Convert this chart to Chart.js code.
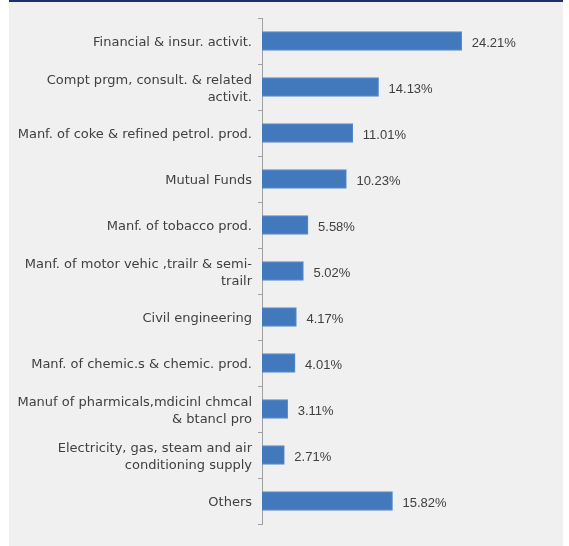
<!DOCTYPE html>
<html>
<head>
<meta charset="utf-8">
<title>Sector share</title>
<script src="https://cdn.jsdelivr.net/npm/chart.js@4/dist/chart.umd.min.js"></script>
<style>
  html, body { margin: 0; padding: 0; background: #ffffff; }
  #panel {
    position: absolute; left: 9px; top: 0; width: 554px; height: 546px;
    background: #f0f0f0;
  }
  #topbar { position: absolute; left: 0; top: 0; width: 554px; height: 2px; background: #1f2f6e; }
  #chart { position: absolute; left: 0; top: 0; }
</style>
</head>
<body>
<div id="panel">
  <canvas id="chart" width="554" height="546"></canvas>
  <div id="topbar"></div>
</div>
<script>
// sectors (top to bottom) and their share in percent
const sectors = [
  'Financial & insur. activit.',
  ['Compt prgm, consult. & related', 'activit.'],
  'Manf. of coke & refined petrol. prod.',
  'Mutual Funds',
  'Manf. of tobacco prod.',
  ['Manf. of motor vehic ,trailr & semi-', 'trailr'],
  'Civil engineering',
  'Manf. of chemic.s & chemic. prod.',
  ['Manuf of pharmicals,mdicinl chmcal', '& btancl pro'],
  ['Electricity, gas, steam and air', 'conditioning supply'],
  'Others'
];
const shares = [24.21, 14.13, 11.01, 10.23, 5.58, 5.02, 4.17, 4.01, 3.11, 2.71, 15.82];

const valueFont = '13px "Liberation Sans", Arial, sans-serif';
const textColor = '#404040';
const axisColor = '#a0a0a0';

// writes "xx.xx%" just past the end of every bar
const valueLabels = {
  id: 'valueLabels',
  afterDatasetsDraw(chart) {
    const ctx = chart.ctx;
    const meta = chart.getDatasetMeta(0);
    ctx.save();
    ctx.font = valueFont;
    ctx.fillStyle = textColor;
    ctx.textAlign = 'left';
    ctx.textBaseline = 'middle';
    meta.data.forEach(function(bar, i) {
      ctx.fillText(shares[i].toFixed(2) + '%', bar.x + 10, bar.y + 2);
    });
    ctx.restore();
  }
};

const ctx = document.getElementById('chart').getContext('2d');
const myChart = new Chart(ctx, {
  type: 'bar',
  data: {
    labels: sectors,
    datasets: [{
      data: shares,
      backgroundColor: '#4279bd',
      borderColor: '#5b8dcb',
      borderWidth: 1,
      barThickness: 19
    }]
  },
  options: {
    indexAxis: 'y',
    responsive: false,
    animation: false,
    layout: { padding: { top: 18, bottom: 22, left: 0, right: 53.5 } },
    plugins: { legend: { display: false }, tooltip: { enabled: false } },
    scales: {
      x: { display: false, min: 0, max: 30 },
      y: {
        offset: true,
        afterFit: function(scale) { scale.width = 253; },
        border: { display: true, color: axisColor, width: 1 },
        grid: {
          offset: true,
          drawOnChartArea: false,
          drawTicks: true,
          tickLength: 4,
          color: axisColor
        },
        ticks: {
          padding: 6,
          labelOffset: 2,
          color: textColor,
          font: { family: '"DejaVu Sans", sans-serif', size: 13, lineHeight: 1.3 }
        }
      }
    }
  },
  plugins: [valueLabels]
});
</script>
</body>
</html>
